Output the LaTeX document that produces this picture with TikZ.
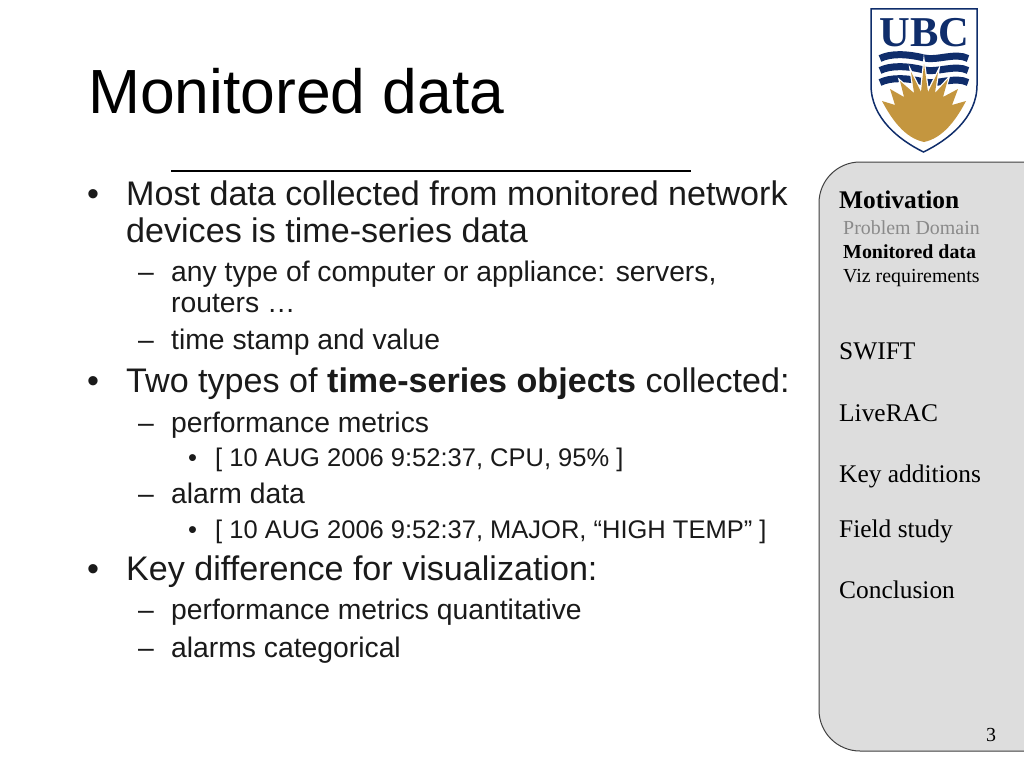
\documentclass[tikz,border=0pt]{standalone}
\usepackage{fontspec}
\setmainfont{Liberation Sans}
\newfontfamily\panelfont{Liberation Serif}
\definecolor{panelgray}{HTML}{DDDDDD}
\definecolor{ubcblue}{HTML}{0F2D6B}
\definecolor{ubcgold}{HTML}{C4963F}
\definecolor{dimtext}{HTML}{8A8A8A}
\definecolor{bodytext}{HTML}{1A1A1A}

\begin{document}
\begin{tikzpicture}[x=1pt,y=-1pt,
    % styles
    title text/.style={anchor=base west,inner sep=0pt,font=\fontsize{62.4}{70}\selectfont},
    level one/.style={anchor=base west,inner sep=0pt,text=bodytext,font=\fontsize{34.1}{40}\selectfont},
    level two/.style={anchor=base west,inner sep=0pt,text=bodytext,font=\fontsize{28.3}{32}\selectfont},
    level three/.style={anchor=base west,inner sep=0pt,text=bodytext,font=\fontsize{25.5}{28}\selectfont},
    panel head/.style={anchor=base west,inner sep=0pt,font=\panelfont\fontsize{25.4}{28}\selectfont},
    panel item/.style={anchor=base west,inner sep=0pt,font=\panelfont\fontsize{19.9}{22}\selectfont},
    wave/.style={draw=ubcblue,line width=7pt}]

  \useasboundingbox (0,0) rectangle (1024,768);
  \fill[white] (0,0) rectangle (1024,768);

  % side panel
  \draw [fill=panelgray,draw=black!75,line width=1pt,rounded corners=41pt]
    (1060,162) -- (819,162) -- (819,751) -- (1060,751);

  % title
  \node [title text] (title) at (88,113) {Monitored data};
  \draw [line width=1.3pt] (171,171) -- (691,171);

  % list
  \node [level one] (b1) at (87,205) {•};
  \node [level one] (t1) at (126,205) {Most data collected from monitored network};
  \node [level one] (t1b) at (126,242) {devices is time-series data};
  \node [level two] (d1) at (138,281) {–};
  \node [level two] (t2) at (171,281) {any type of computer or appliance: servers,};
  \node [level two] (t2b) at (171,312) {routers …};
  \node [level two] (d2) at (138,349) {–};
  \node [level two] (t3) at (171,349) {time stamp and value};
  \node [level one] (b2) at (87,392) {•};
  \node [level one] (t4) at (126,392) {Two types of \textbf{time-series objects} collected:};
  \node [level two] (d3) at (138,432) {–};
  \node [level two] (t5) at (171,432) {performance metrics};
  \node [level three] (s1) at (188,466) {•};
  \node [level three] (t6) at (215,466) {[ 10 AUG 2006 9:52:37, CPU, 95\% ]};
  \node [level two] (d4) at (138,503) {–};
  \node [level two] (t7) at (171,503) {alarm data};
  \node [level three] (s2) at (188,538) {•};
  \node [level three] (t8) at (215,538) {[ 10 AUG 2006 9:52:37, MAJOR, “HIGH TEMP” ]};
  \node [level one] (b3) at (87,580) {•};
  \node [level one] (t9) at (126,580) {Key difference for visualization:};
  \node [level two] (d5) at (138,619) {–};
  \node [level two] (t10) at (171,619) {performance metrics quantitative};
  \node [level two] (d6) at (138,657) {–};
  \node [level two] (t11) at (171,657) {alarms categorical};

  % panel text
  \node [panel head] (p1) at (839,208) {\textbf{Motivation}};
  \node [panel item,text=dimtext] (p2) at (843,234) {Problem Domain};
  \node [panel item] (p3) at (843,258) {\textbf{Monitored data}};
  \node [panel item] (p4) at (843,282) {Viz requirements};
  \node [panel head] (p5) at (839,359) {SWIFT};
  \node [panel head] (p6) at (839,421) {LiveRAC};
  \node [panel head] (p7) at (839,482) {Key additions};
  \node [panel head] (p8) at (839,537) {Field study};
  \node [panel head] (p9) at (839,598) {Conclusion};
  \node [panel item] (num) at (986,741) {3};

  % logo
  \draw [draw=ubcblue,line width=1.5pt,fill=white] (871,9) -- (977,9) -- (977,85)
    .. controls (977,118) and (948,140) .. (923.5,152)
    .. controls (899,140) and (871,118) .. (871,85) -- cycle;
  \node [anchor=base,inner sep=0pt,text=ubcblue,font=\panelfont\bfseries\fontsize{42.5}{43}\selectfont] (ubc) at (924.5,47) {UBC};
  \foreach \y in {57,69,81}
    \draw [wave] (880,\y+1.5) .. controls (890,\y-3.5) and (906,\y-3.5) .. (924,\y+1)
      .. controls (938,\y+4) and (955,\y-5) .. (968,\y+1.5);
  \fill [ubcgold,preaction={draw=white,line width=2.5pt}]
    (924,142) .. controls (905,138) and (892,120) .. (882,101) -- (895,105)
    -- (890,89) -- (904,97) -- (900,81) -- (914,93) -- (911,72) -- (921,92) -- (924,64)
    -- (928,92) -- (938,72) -- (935,93) -- (948,79) -- (943,97) -- (958,89) -- (952,105)
    -- (966,101) .. controls (956,120) and (943,138) .. (924,142) -- cycle;
\end{tikzpicture}
\end{document}
